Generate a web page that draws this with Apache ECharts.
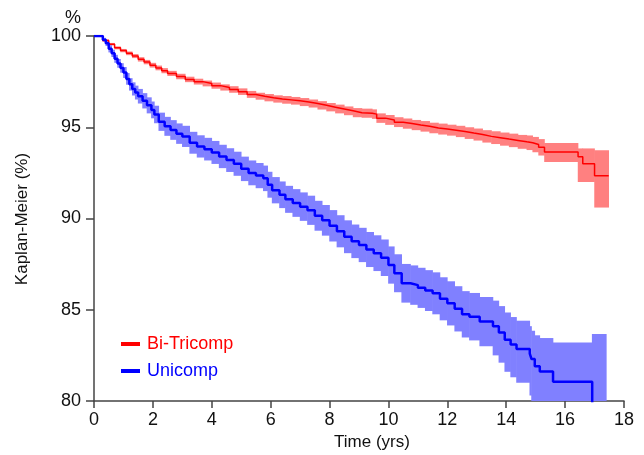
<!DOCTYPE html>
<html>
<head>
<meta charset="utf-8">
<script src="https://cdn.jsdelivr.net/npm/echarts@6/dist/echarts.min.js"></script>
<style>
  html, body { margin: 0; padding: 0; background: #fff; }
  #km-chart { width: 644px; height: 455px; }
</style>
</head>
<body>
<div id="km-chart"></div>
<script>
// x ticks / y ticks
var xTicks = [0, 2, 4, 6, 8, 10, 12, 14, 16, 18];
var yTicks = [80, 85, 90, 95, 100];

// Bi-Tricomp (red)
var redTime = [0, 0.3, 0.5, 0.7, 0.9, 1.1, 1.3, 1.5, 1.7, 1.9, 2.1, 2.3, 2.5, 2.8, 3.1, 3.4, 3.7, 4.0, 4.3, 4.6,
    4.9, 5.2, 5.5, 5.8, 6.1, 6.4, 6.7, 7.0, 7.3, 7.6, 7.9, 8.2, 8.5, 8.8, 9.1, 9.45, 9.6, 9.9, 10.2, 10.5,
    10.8, 11.1, 11.4, 11.7, 12.0, 12.3, 12.6, 12.9, 13.2, 13.5, 13.8, 14.1, 14.4, 14.7, 14.9, 15.1, 15.3, 16.44, 16.6, 17.0, 17.48];
var redSurv = [100, 99.75, 99.55, 99.35, 99.2, 99.05, 98.9, 98.72, 98.57, 98.4, 98.25, 98.1, 97.95, 97.78, 97.62, 97.5, 97.4, 97.28, 97.18, 97.07,
    96.95, 96.8, 96.7, 96.62, 96.55, 96.5, 96.45, 96.38, 96.3, 96.2, 96.1, 96.0, 95.9, 95.8, 95.77, 95.72, 95.5, 95.4, 95.28, 95.2,
    95.12, 95.05, 94.96, 94.9, 94.84, 94.77, 94.68, 94.6, 94.5, 94.43, 94.35, 94.28, 94.2, 94.15, 94.05, 93.9, 93.65, 93.38, 93.0, 92.34, 92.34];
var redLow = [100, 99.69, 99.48, 99.27, 99.11, 98.95, 98.79, 98.6, 98.45, 98.27, 98.12, 97.96, 97.81, 97.63, 97.47, 97.34, 97.24, 97.11, 97.01, 96.89,
    96.77, 96.61, 96.51, 96.42, 96.35, 96.29, 96.24, 96.16, 96.08, 95.97, 95.87, 95.76, 95.66, 95.55, 95.52, 95.46, 95.24, 95.13, 95.01, 94.92,
    94.84, 94.76, 94.67, 94.6, 94.54, 94.46, 94.36, 94.27, 94.16, 94.08, 93.99, 93.91, 93.82, 93.75, 93.63, 93.45, 93.1, 92.0, 92.0, 90.6, 90.6];
var redHigh = [100, 99.81, 99.62, 99.43, 99.29, 99.15, 99.01, 98.84, 98.69, 98.53, 98.38, 98.24, 98.09, 97.93, 97.77, 97.66, 97.56, 97.45, 97.35, 97.25,
    97.13, 96.99, 96.89, 96.82, 96.75, 96.71, 96.66, 96.6, 96.52, 96.43, 96.33, 96.24, 96.14, 96.05, 96.02, 95.98, 95.76, 95.67, 95.55, 95.48,
    95.4, 95.34, 95.25, 95.2, 95.14, 95.08, 95.0, 94.93, 94.84, 94.78, 94.71, 94.65, 94.58, 94.55, 94.47, 94.35, 94.14, 93.84, 93.84, 93.74, 93.74];

// Unicomp (blue)
var blueTime = [0, 0.3, 0.4, 0.5, 0.6, 0.7, 0.8, 0.9, 1.0, 1.1, 1.2, 1.3, 1.4, 1.5, 1.65, 1.8, 1.95, 2.05, 2.2, 2.4,
    2.6, 2.8, 3.0, 3.25, 3.5, 3.75, 4.0, 4.25, 4.5, 4.75, 5.0, 5.25, 5.5, 5.75, 5.9, 6.05, 6.3, 6.5, 6.75, 7.0,
    7.25, 7.5, 7.75, 8.0, 8.25, 8.5, 8.75, 9.0, 9.25, 9.5, 9.75, 10.0, 10.2, 10.45, 10.75, 11.0, 11.25, 11.5, 11.75, 12.0,
    12.25, 12.5, 12.75, 13.1, 13.55, 13.75, 13.95, 14.15, 14.35, 14.8, 14.86, 14.97, 15.14, 15.59, 16.92];
var blueSurv = [100, 99.8, 99.6, 99.3, 99.05, 98.75, 98.5, 98.25, 98.0, 97.65, 97.35, 97.1, 96.9, 96.7, 96.45, 96.2, 95.95, 95.7, 95.3, 95.05,
    94.85, 94.65, 94.5, 94.15, 93.95, 93.8, 93.62, 93.4, 93.2, 93.0, 92.72, 92.5, 92.35, 92.2, 91.85, 91.55, 91.3, 91.05, 90.85, 90.65,
    90.45, 90.15, 89.9, 89.6, 89.3, 89.0, 88.75, 88.55, 88.3, 88.1, 87.85, 87.45, 87.0, 86.45, 86.35, 86.2, 86.05, 85.9, 85.6, 85.35,
    85.05, 84.75, 84.62, 84.35, 84.1, 83.75, 83.35, 83.1, 82.85, 82.6, 82.3, 81.9, 81.61, 81.06, 79];
var blueBandTime = blueTime.concat([17.4]);
var blueLow = [100, 99.7, 99.45, 99.1, 98.85, 98.53, 98.26, 97.99, 97.7, 97.33, 97.01, 96.74, 96.52, 96.3, 96.03, 95.76, 95.49, 95.22, 94.8, 94.53,
    94.31, 94.09, 93.92, 93.55, 93.34, 93.18, 92.99, 92.76, 92.55, 92.34, 92.05, 91.82, 91.66, 91.5, 91.14, 90.83, 90.57, 90.31, 90.09, 89.87,
    89.65, 89.33, 89.06, 88.74, 88.42, 88.1, 87.83, 87.61, 87.34, 87.12, 86.85, 86.43, 85.96, 85.39, 85.27, 85.1, 84.93, 84.75, 84.42, 84.14,
    83.81, 83.48, 83.32, 83.0, 82.5, 82.1, 81.6, 81.3, 81.0, 80.3, 79.6, 79, 79, 79, 79, 79];
var blueHigh = [100, 99.9, 99.75, 99.5, 99.25, 98.97, 98.74, 98.51, 98.3, 97.97, 97.69, 97.46, 97.28, 97.1, 96.87, 96.64, 96.41, 96.18, 95.8, 95.57,
    95.39, 95.21, 95.08, 94.75, 94.56, 94.42, 94.25, 94.04, 93.85, 93.66, 93.39, 93.18, 93.04, 92.9, 92.56, 92.27, 92.03, 91.79, 91.61, 91.43,
    91.25, 90.97, 90.74, 90.46, 90.18, 89.9, 89.67, 89.49, 89.26, 89.08, 88.85, 88.47, 88.04, 87.51, 87.43, 87.3, 87.17, 87.05, 86.78, 86.56,
    86.29, 86.02, 85.92, 85.7, 85.5, 85.2, 84.85, 84.6, 84.4, 84.1, 83.85, 83.6, 83.45, 83.2, 83.67, 83.67];

function pairs(xs, ys) {
    return xs.map(function (x, i) { return [x, ys[i]]; });
}

// one rect per step: [t_i, t_i+1, low_i, high_i]
function bandRows(xs, lo, hi) {
    var rows = [];
    for (var i = 0; i < xs.length - 1; i++) {
        rows.push([xs[i], xs[i + 1], lo[i], hi[i]]);
    }
    return rows;
}

function bandSeries(name, xs, lo, hi, color) {
    return {
        name: name,
        type: 'custom',
        silent: true,
        encode: { x: [0, 1], y: [2, 3] },
        data: bandRows(xs, lo, hi),
        z: 1,
        renderItem: function (params, api) {
            var a = api.coord([api.value(0), api.value(3)]);
            var b = api.coord([api.value(1), api.value(2)]);
            var shape = echarts.graphic.clipRectByRect({
                x: a[0] - 0.3,
                y: a[1],
                width: b[0] - a[0] + 0.6,
                height: b[1] - a[1]
            }, {
                x: params.coordSys.x,
                y: params.coordSys.y,
                width: params.coordSys.width,
                height: params.coordSys.height
            });
            return shape && {
                type: 'rect',
                shape: shape,
                style: { fill: color }
            };
        }
    };
}

var myChart = echarts.init(document.getElementById('km-chart'));
var font = 'Liberation Sans, Arial, sans-serif';
var option = {
    animation: false,
    textStyle: { fontFamily: font },
    grid: { left: 94, right: 20, top: 36, bottom: 54 },
    legend: {
        orient: 'vertical',
        left: 121,
        top: 335,
        padding: 0,
        itemGap: 9,
        itemWidth: 19,
        itemHeight: 4,
        icon: 'rect',
        selectedMode: false,
        textStyle: { fontSize: 18, fontFamily: font, padding: [0, 0, 0, 2] },
        data: [
            { name: 'Bi-Tricomp', textStyle: { color: '#ff0000' } },
            { name: 'Unicomp', textStyle: { color: '#0000ff' } }
        ]
    },
    xAxis: {
        type: 'value',
        min: xTicks[0],
        max: xTicks[xTicks.length - 1],
        interval: 2,
        axisLine: { lineStyle: { color: '#444', width: 1.5 } },
        axisTick: { length: 7, lineStyle: { color: '#444', width: 1.5 } },
        axisLabel: { color: '#111', fontSize: 18, margin: 10 },
        splitLine: { show: false }
    },
    yAxis: {
        type: 'value',
        min: yTicks[0],
        max: yTicks[yTicks.length - 1],
        interval: 5,
        axisLine: { show: true, lineStyle: { color: '#444', width: 1.5 } },
        axisTick: { show: true, length: 8, lineStyle: { color: '#444', width: 1.5 } },
        axisLabel: { color: '#111', fontSize: 18, margin: 13 },
        splitLine: { show: false }
    },
    graphic: [
        { type: 'text', left: 65, top: 9, style: { text: '%', font: '18px ' + font, fill: '#111' } },
        { type: 'text', x: 22, y: 219, rotation: Math.PI / 2,
          style: { text: 'Kaplan-Meier (%)', font: '17px ' + font, fill: '#111', align: 'center', verticalAlign: 'middle' } },
        { type: 'text', x: 372, y: 442,
          style: { text: 'Time (yrs)', font: '17px ' + font, fill: '#111', align: 'center', verticalAlign: 'middle' } }
    ],
    series: [
        bandSeries('red-ci', redTime, redLow, redHigh, '#ff8080'),
        bandSeries('blue-ci', blueBandTime, blueLow, blueHigh, '#8080ff'),
        {
            name: 'Bi-Tricomp',
            type: 'line',
            step: 'end',
            data: pairs(redTime, redSurv),
            symbol: 'none',
            color: '#ff0000',
            lineStyle: { color: '#ff0000', width: 1.5 },
            z: 5
        }, {
            name: 'Unicomp',
            type: 'line',
            step: 'end',
            data: pairs(blueTime, blueSurv),
            symbol: 'none',
            color: '#0000ff',
            lineStyle: { color: '#0000ff', width: 2.5 },
            z: 5
        }
    ]
};
myChart.setOption(option);
</script>
</body>
</html>
